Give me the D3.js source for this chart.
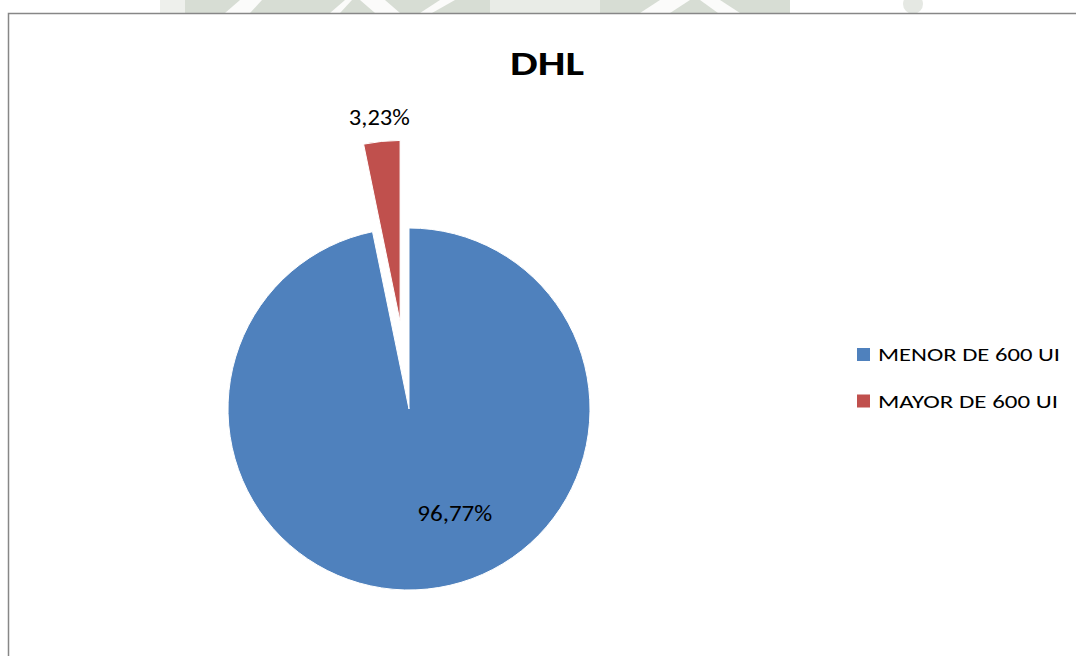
<!DOCTYPE html>
<html>
<head>
<meta charset="utf-8">
<script src="https://cdn.jsdelivr.net/npm/d3@7/dist/d3.min.js"></script>
<style>
  html, body { margin: 0; padding: 0; background: #ffffff; }
  svg { display: block; }
  text { font-family: Calibri, Carlito, Lato, "Open Sans", sans-serif; fill: #000; }
</style>
</head>
<body>
<svg id="chart" width="1076" height="656"></svg>
<script>
// Chart data
const title = "DHL";
const categories = ["MENOR DE 600 UI", "MAYOR DE 600 UI"];
const values = [96.77, 3.23];
const valueLabels = ["96,77%", "3,23%"];
const colors = ["#4F81BD", "#C0504D"];

// Layout
const W = 1076, H = 656;
const cx = 409, cy = 409, radius = 181;
const explode = [0, 88];                 // radial pull-out per slice, px
const titleWidth = 74;                   // rendered text widths, px
const valueLabelWidths = [75, 61];
const legendTextWidths = [182, 180];
const svg = d3.select("#chart");

// Faint page backdrop strip above the chart frame
const back = svg.append("g").attr("class", "backdrop");
back.append("rect").attr("x", 160).attr("y", 0).attr("width", 25).attr("height", 13).attr("fill", "#eef0ec");
back.append("rect").attr("x", 185).attr("y", 0).attr("width", 305).attr("height", 13).attr("fill", "#d7ddd4");
back.append("rect").attr("x", 490).attr("y", 0).attr("width", 110).attr("height", 13).attr("fill", "#e9ece7");
back.append("rect").attr("x", 600).attr("y", 0).attr("width", 190).attr("height", 13).attr("fill", "#d7ddd4");
[[[225,13],[240,0],[262,0],[250,13]], [[330,13],[345,0],[352,0],[340,13]],
 [[360,0],[385,0],[400,13],[375,13]], [[420,13],[440,0],[455,0],[432,13]],
 [[640,13],[660,0],[690,0],[670,13]], [[700,0],[720,0],[740,13],[718,13]]]
  .forEach(p => back.append("polygon").attr("points", p.join(" ")).attr("fill", "#fbfbfa"));
back.append("circle").attr("cx", 913).attr("cy", 4).attr("r", 10).attr("fill", "#e5e8e3");

// Chart frame
svg.append("rect")
  .attr("x", 8.5).attr("y", 13.5)
  .attr("width", 1100).attr("height", 700)
  .attr("fill", "#ffffff")
  .attr("stroke", "#878787")
  .attr("stroke-width", 1.5);

// Title
svg.append("text")
  .attr("x", 547).attr("y", 75)
  .attr("text-anchor", "middle")
  .attr("textLength", titleWidth)
  .attr("lengthAdjust", "spacingAndGlyphs")
  .style("font-size", "35px")
  .style("font-weight", "bold")
  .text(title);

// Pie
const pie = d3.pie().sort(null).startAngle(0).endAngle(2 * Math.PI);
const arcs = pie(values);
const arc = d3.arc().innerRadius(0).outerRadius(radius);

const offset = (d, i) => {
  const mid = (d.startAngle + d.endAngle) / 2;
  return [explode[i] * Math.sin(mid), -explode[i] * Math.cos(mid)];
};

const g = svg.append("g").attr("transform", `translate(${cx},${cy})`);
g.selectAll("path.slice")
  .data(arcs)
  .join("path")
  .attr("class", "slice")
  .attr("transform", (d, i) => { const o = offset(d, i); return `translate(${o[0]},${o[1]})`; })
  .attr("d", arc)
  .attr("fill", (d, i) => colors[i])
  .attr("stroke", "#ffffff")
  .attr("stroke-width", 1);

// Value labels: the large slice is labelled inside, the small one just outside its rim
const labelInside = d3.arc().innerRadius(radius * 0.64).outerRadius(radius * 0.64);
const labelOutside = d3.arc().innerRadius(radius + 24).outerRadius(radius + 24);
g.selectAll("text.val")
  .data(arcs)
  .join("text")
  .attr("class", "val")
  .attr("transform", (d, i) => {
    const o = offset(d, i);
    let p;
    if (i === 0) {
      p = labelInside.centroid(d);
      p = [p[0] + 34, p[1] - 11];   // shifted off the centre line, right of the seam
    } else {
      p = labelOutside.centroid(d);
    }
    return `translate(${p[0] + o[0]},${p[1] + o[1]})`;
  })
  .attr("text-anchor", "middle")
  .attr("dy", "0.35em")
  .attr("textLength", (d, i) => valueLabelWidths[i])
  .attr("lengthAdjust", "spacingAndGlyphs")
  .style("font-size", "22.5px")
  .text((d, i) => valueLabels[i]);

// Legend
const legend = svg.append("g").attr("transform", "translate(857,348)");
const item = legend.selectAll("g.item")
  .data(categories)
  .join("g")
  .attr("class", "item")
  .attr("transform", (d, i) => `translate(0,${i * 46.5})`);
item.append("rect")
  .attr("width", 13).attr("height", 13)
  .attr("fill", (d, i) => colors[i]);
item.append("text")
  .attr("x", 21).attr("y", 13)
  .attr("textLength", (d, i) => legendTextWidths[i])
  .attr("lengthAdjust", "spacingAndGlyphs")
  .style("font-size", "17.5px")
  .text(d => d);
</script>
</body>
</html>
